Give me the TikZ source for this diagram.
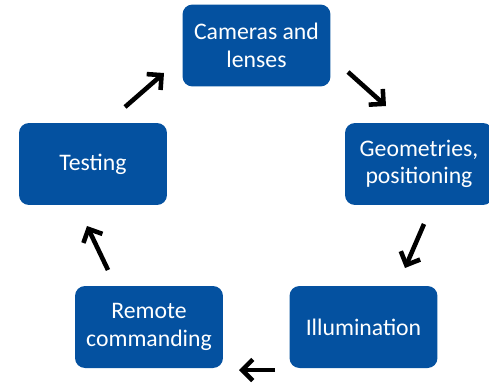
\documentclass[tikz,border=0pt]{standalone}
\usepackage{fontspec}
\setmainfont{Carlito}
\usepackage{tikz}
\usetikzlibrary{arrows.meta,positioning,calc}
\definecolor{stageblue}{RGB}{4,81,160}
\tikzset{stagebox/.style={draw=none,fill=stageblue,text=white,rounded corners=0.2cm,
    minimum width=2.96cm,minimum height=1.64cm,align=center,inner sep=0pt,
    font=\fontsize{13.5}{15.6}\selectfont}}
\tikzset{cyclearrow/.style={line width=2.6pt,-{Straight Barb[length=6pt,width=12pt,line width=2.6pt]}}}

\begin{document}
\begin{tikzpicture}[x=0.02cm,y=-0.02cm]

\useasboundingbox (0,0) rectangle (489,389);

\node[stagebox] (cameras) at (256.5,45.5) {Cameras and\\lenses};
\node[stagebox] (geometries) at (419,164) {Geometries,\\positioning};
\node[stagebox] (illumination) at (363.5,327) {Illumination};
\node[stagebox] (remote) at (149,327) {Remote\\commanding};
\node[stagebox] (testing) at (93,164) {Testing};

% arrow ends
\coordinate (a1) at (125,107);
\coordinate (b1) at (164,73);
\coordinate (a2) at (348,72);
\coordinate (b2) at (386,106);
\coordinate (a3) at (424,224);
\coordinate (b3) at (405,268);
\coordinate (a4) at (275,370);
\coordinate (b4) at (239,370);
\coordinate (a5) at (108,270);
\coordinate (b5) at (87,226);

\foreach \i in {1,...,5}
{
\draw[cyclearrow] (a\i) -- (b\i);
}

\end{tikzpicture}
\end{document}
